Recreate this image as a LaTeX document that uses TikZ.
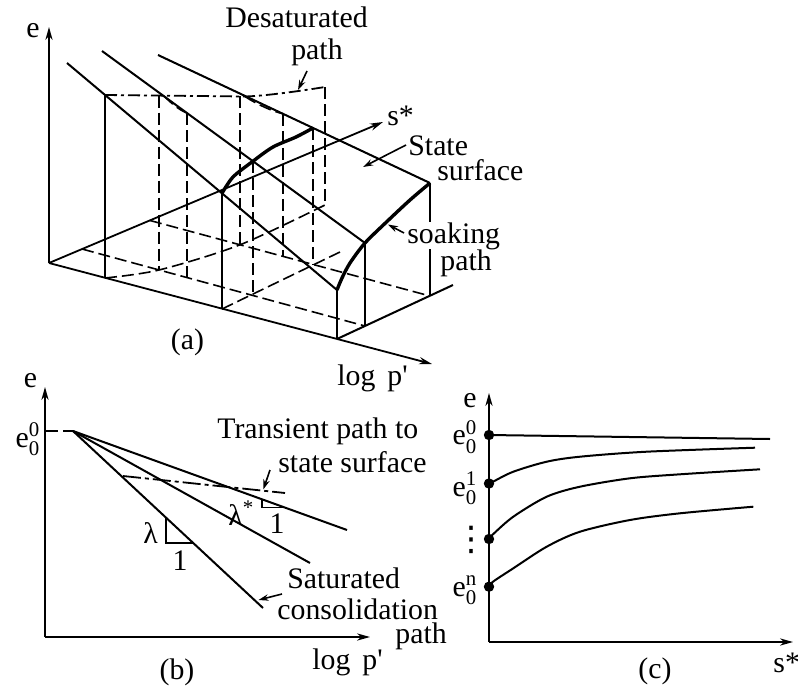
\documentclass[tikz,border=0pt]{standalone}
\usepackage{amsmath}
\usepackage{fontspec}
\setmainfont{Liberation Serif}
\newfontfamily\dejavufam{DejaVu Sans}
\usetikzlibrary{arrows.meta}
\begin{document}
\begin{tikzpicture}[x=0.5pt,y=-0.5pt,
  txt/.style={font=\fontsize{14.9}{17}\selectfont, inner sep=0pt},
  ln/.style={line width=1.0pt},
  vln/.style={line width=0.75pt},
  thk/.style={line width=1.7pt},
  dsh/.style={line width=0.8pt, dash pattern=on 6pt off 2.5pt},
  ddot/.style={line width=0.9pt, dash pattern=on 6pt off 2pt on 1.5pt off 2pt},
  tdot/.style={line width=0.9pt, dash pattern=on 9pt off 2pt on 2pt off 2pt},
  axarrow/.style={line width=0.9pt, -{Stealth[length=6.5pt,width=3.6pt]}},
  ptr/.style={line width=0.8pt, -{Stealth[length=5pt,width=3.2pt]}},
  bullet/.style={circle, fill=black, inner sep=0pt, minimum size=5.2pt}]
\useasboundingbox (0,0) rectangle (798,696);

% ================= (a) =================
\coordinate (O) at (49,263);
\coordinate (Etip) at (49,27);
\coordinate (Ptip) at (432,364);
\coordinate (Stip) at (383,122);
\coordinate (L1s) at (67,63);   \coordinate (L1e) at (337,290);
\coordinate (L2s) at (102,51);  \coordinate (L2e) at (365,243);
\coordinate (L3s) at (158,55);  \coordinate (L3e) at (430,183);
\coordinate (A) at (105,95);    \coordinate (Ab) at (105,278);
\coordinate (M1) at (222,193.3); \coordinate (M1b) at (222,309);
\coordinate (M2) at (253,161.2); \coordinate (M2b) at (253,295);
\coordinate (M3) at (313,128);   \coordinate (M3b) at (313,265);
\coordinate (E1b) at (337,339);
\coordinate (E2b) at (365,326);
\coordinate (E3b) at (430,296);
\coordinate (Mend) at (340,252);
\coordinate (Eend) at (453,285);
\coordinate (S1a) at (82,249);
\coordinate (S2a) at (150,220.5);
\coordinate (D1) at (159,95.5);  \coordinate (D1b) at (159,270);
\coordinate (D2) at (240,96.3);  \coordinate (D2b) at (240,244.8);
\coordinate (D3) at (325,87);    \coordinate (D3b) at (325,205);
\coordinate (T2) at (187,113);   \coordinate (T2b) at (187,277.6);
\coordinate (T3) at (283,113.8); \coordinate (T3b) at (283,256.4);

% axes
\draw[axarrow] (O) -- (Etip);
\draw[axarrow] (O) -- (Ptip);
\draw[axarrow] (O) -- (Stip);

% base lines
\draw[dsh] (S1a) -- (E2b);
\draw[dsh] (S2a) -- (E3b);
\draw[dsh] (M1b) -- (Mend);
\draw[ln] (E1b) -- (Eend);
\draw[dsh] plot[smooth] coordinates {(Ab) (D1b) (D2b) (D3b)};

% dashed verticals
\draw[dsh] (D1) -- (D1b);
\draw[dsh] (T2) -- (T2b);
\draw[dsh] (D2) -- (D2b);
\draw[dsh] (M2) -- (M2b);
\draw[dsh] (T3) -- (T3b);
\draw[dsh] (M3) -- (M3b);
\draw[dsh] (D3) -- (D3b);

% solid verticals
\draw[vln] (A) -- (Ab);
\draw[vln] (M1) -- (M1b);
\draw[vln] (L1e) -- (E1b);
\draw[vln] (L2e) -- (E2b);
\draw[vln] (L3e) -- (E3b);

% compression lines
\draw[ln] (L1s) -- (L1e);
\draw[ln] (L2s) -- (L2e);
\draw[ln] (L3s) -- (L3e);

% desaturated path and transient paths
\draw[ddot] (A) -- (245,96.5) .. controls (265,96) and (300,91) .. (D3);
\draw[dsh] (164,96) .. controls (171,103) and (179,110) .. (T2);
\draw[dsh] (245,96.5) .. controls (258,105) and (272,111) .. (T3);

% state surface curves
\draw[thk] plot[smooth] coordinates {(M1) (233,177) (M2) (273,147) (296,137) (M3)};
\draw[thk] plot[smooth] coordinates {(L1e) (342,278) (350,263) (L2e) (387,221.5) (410,200) (L3e)};

% labels (a)
\node[txt, anchor=base] (ae) at (33,38) {e};
\node[txt, anchor=base] (desat1) at (296.5,27) {Desaturated};
\node[txt, anchor=base] (desat2) at (317,59) {path};
\node[txt, anchor=base west] (sstar) at (387,125) {s*};
\node[txt, anchor=base west] (state1) at (408,155) {State};
\node[txt, anchor=base west] (state2) at (437,180) {surface};
\node[txt, anchor=base west, fill=white] (soak1) at (407,243) {soaking};
\node[txt, anchor=base west] (soak2) at (440,270) {path};
\node[txt] (alab) at (187.5,342) {(a)};
\node[txt, anchor=base west] (alogp) at (337,385) {log\hspace{0.4em}p\textquotesingle};

\coordinate (dpA) at (307,71);  \coordinate (dpB) at (298,90);
\draw[ptr] (dpA) -- (dpB);
\coordinate (ssA) at (406,145); \coordinate (ssB) at (363,167);
\draw[ptr] (ssA) -- (ssB);
\coordinate (skA) at (404,233); \coordinate (skB) at (388,224.5);
\draw[ptr] (skA) -- (skB);

% ================= (b) =================
\coordinate (Ob) at (45,637);
\coordinate (Ebtip) at (45,387);
\coordinate (Pbtip) at (370,637);
\coordinate (P0) at (73,431);
\coordinate (P0a) at (46,431);
\coordinate (Llam) at (263,608);
\coordinate (Lmid) at (310,563);
\coordinate (Ltop) at (347,530);
\draw[axarrow] (Ob) -- (Ebtip);
\draw[axarrow] (Ob) -- (Pbtip);
\draw[dsh] (P0a) -- (P0);
\draw[ln] (P0) -- (Llam);
\draw[ln] (P0) -- (Lmid);
\draw[ln] (P0) -- (Ltop);
\coordinate (TrA) at (123,476);
\coordinate (TrB) at (285,493);
\draw[tdot] (TrA) -- (TrB);
% slope triangles
\coordinate (la1) at (166,517.6); \coordinate (la2) at (166,543); \coordinate (la3) at (193,543);
\draw[vln] (la1) -- (la2) -- (la3);
\coordinate (ls1) at (262,499.3); \coordinate (ls2) at (262,507.6); \coordinate (ls3) at (285,507.6);
\draw[vln] (ls1) -- (ls2) -- (ls3);

\node[txt, anchor=base] (be) at (30.5,387) {e};
\node[txt] (be00) at (28,439.5) {$\text{e}^{\text{0}}_{\text{0}}$};
\node[txt, anchor=base west] (blam) at (143,543) {λ};
\node[txt, anchor=base] (bone1) at (180,570) {1};
\node[txt, anchor=base west] (blams) at (228,525) {λ\textsuperscript{*}};
\node[txt, anchor=base] (bone2) at (277,533) {1};
\node[txt, anchor=base west] (btr1) at (217,438) {Transient path to};
\node[txt, anchor=base west] (btr2) at (278,472) {state surface};
\node[txt, anchor=base west] (bsat1) at (287,588) {Saturated};
\node[txt, anchor=base west] (bsat2) at (277,619) {consolidation};
\node[txt, anchor=base west] (bsat3) at (395,643) {path};
\node[txt, anchor=base west] (blogp) at (312,669) {log\hspace{0.4em}p\textquotesingle};
\node[txt] (blab) at (177,672) {(b)};
\coordinate (trpA) at (270,470); \coordinate (trpB) at (263.3,489.5);
\draw[ptr] (trpA) -- (trpB);
\coordinate (satA) at (282,594); \coordinate (satB) at (258.5,600);
\draw[ptr] (satA) -- (satB);

% ================= (c) =================
\coordinate (Oc) at (489,642);
\coordinate (Ectip) at (489,393);
\coordinate (Sctip) at (793,642);
\draw[axarrow] (Oc) -- (Ectip);
\draw[axarrow] (Oc) -- (Sctip);
\draw[ln] (489,435) -- (770,439);
\draw[ln] plot[smooth] coordinates {(489,483.5) (493,481.7) (513.3,471.7) (546.7,461.7) (580,456.7) (646.7,451.7) (755,447.7)};
\draw[ln] plot[smooth] coordinates {(489,539) (493,534.3) (513.3,516.7) (546.7,496.7) (580,486.7) (630,478.3) (680,474.3) (760,469.3)};
\draw[ln] plot[smooth] coordinates {(489,586.7) (493,581.7) (513.3,568.3) (546.7,546.7) (580,531.7) (630,520) (680,513.3) (753.3,506.7)};
\node[bullet] (c0) at (489,435) {};
\node[bullet] (c1) at (489,483.5) {};
\node[bullet] (c2) at (489,539) {};
\node[bullet] (c3) at (489,586.7) {};
\node[txt, anchor=base] (ce) at (470,407) {e};
\node[txt] (ce00) at (465,437) {$\text{e}^{\text{0}}_{\text{0}}$};
\node[txt] (ce01) at (465,488) {$\text{e}^{\text{1}}_{\text{0}}$};
\node[txt, font=\dejavufam\fontsize{17}{17}\selectfont] (cdots) at (471,540) {⋮};
\node[txt] (ce0n) at (465,590) {$\text{e}^{\text{n}}_{\text{0}}$};
\node[txt, anchor=base west] (cs) at (773,672) {s*};
\node[txt] (clab) at (655,671) {(c)};
\end{tikzpicture}
\end{document}
